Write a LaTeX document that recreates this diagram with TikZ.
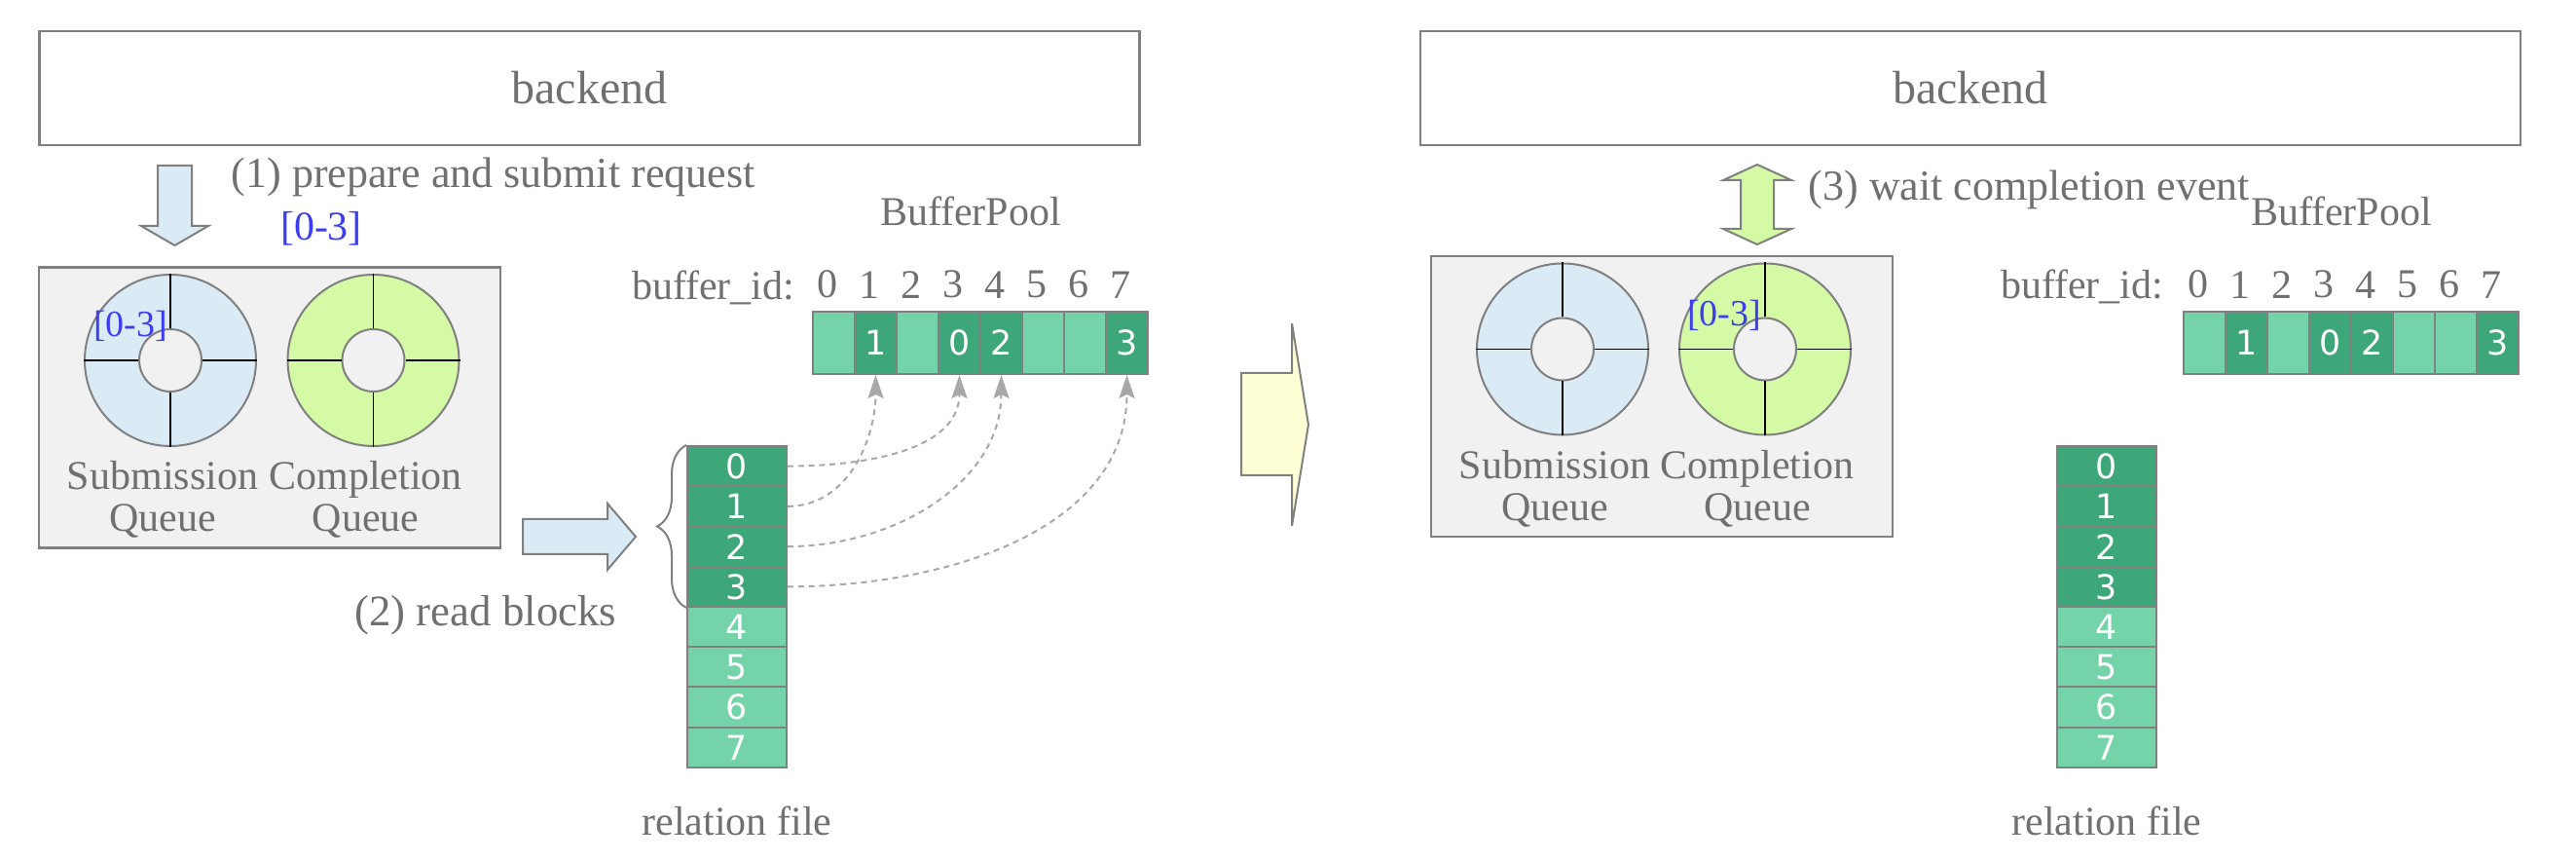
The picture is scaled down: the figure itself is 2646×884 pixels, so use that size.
\documentclass[tikz,border=0pt]{standalone}
\usepackage{fontspec}
\setmainfont{Liberation Serif}
\newfontfamily\cellfont{DejaVu Sans}
\usetikzlibrary{positioning}
\usetikzlibrary{arrows.meta}
\usetikzlibrary{decorations.pathreplacing}

\definecolor{txtgray}{HTML}{707070}
\definecolor{linegray}{HTML}{808080}
\definecolor{dashgray}{HTML}{A8A8A8}
\definecolor{sqblue}{HTML}{DAEBF6}
\definecolor{cqgreen}{HTML}{D4FAA5}
\definecolor{boxgray}{HTML}{F1F1F1}
\definecolor{blkdark}{HTML}{3DA77A}
\definecolor{blklight}{HTML}{75D3AA}
\definecolor{fwdyellow}{HTML}{FFFFD6}
\definecolor{idxblue}{HTML}{3C3CF0}

\tikzset{
  txt/.style = {text=txtgray, inner sep=0pt, font=\fontsize{10.5}{10.75}\selectfont},
  idx/.style = {text=idxblue, inner sep=0pt, font=\fontsize{9.5}{10}\selectfont},
  backendbox/.style = {draw=linegray, line width=0.6pt, minimum width=282.5pt, minimum height=29.25pt,
    text=txtgray, font=\fontsize{12}{14}\selectfont},
  qbox/.style = {draw=linegray, line width=0.6pt, fill=boxgray, minimum width=118.5pt, minimum height=72pt},
  ring/.style = {circle, draw=linegray, line width=0.5pt, minimum size=44pt, inner sep=0pt},
  hole/.style = {circle, draw=linegray, line width=0.5pt, fill=boxgray, minimum size=16pt, inner sep=0pt},
  divline/.style = {black, line width=0.4pt},
  bufcell/.style = {draw=linegray, line width=0.5pt, minimum width=10.75pt, minimum height=16pt, inner sep=0pt,
    text=white, font=\cellfont\fontsize{8.7}{9}\selectfont},
  relcell/.style = {draw=linegray, line width=0.5pt, minimum width=25.5pt, minimum height=10.3pt, inner sep=0pt,
    text=white, font=\cellfont\fontsize{8.7}{9}\selectfont},
  fatarrow/.style = {draw=linegray, line width=0.5pt},
  linkline/.style = {dashgray, line width=0.5pt, dash pattern=on 1.5pt off 1.2pt,
    -{Stealth[length=6pt, width=4pt, inset=1pt]}},
}

\begin{document}
\begin{tikzpicture}[x=0.25pt, y=0.25pt]
\useasboundingbox (0,0) rectangle (2646,-884);

% left half
\node[backendbox] (backl) at (605.5,-90.5) {backend};
\draw[fatarrow, fill=sqblue] (162,-170) -- (197,-170) -- (197,-232) -- (214,-232) -- (179.5,-252) -- (145,-232) -- (162,-232) -- cycle;
\node[txt, font=\fontsize{11}{12}\selectfont, anchor=base west] (stepone) at (237,-193) {(1) prepare and submit request};
\node[idx, font=\fontsize{10.5}{11}\selectfont] (reqidx) at (330,-235) {[0-3]};

\node[qbox] (qboxl) at (277,-418.5) {};
\node[ring, fill=sqblue] (sqringl) at (175,-370) {};
\node[hole] (sqholel) at (sqringl) {};
\node[ring, fill=cqgreen] (cqringl) at (383.5,-370) {};
\node[hole] (cqholel) at (cqringl) {};
\foreach \r in {sqringl, cqringl} {
  \draw[divline] (\r.north) -- ++(0,-56);
  \draw[divline] (\r.south) -- ++(0,56);
  \draw[divline] (\r.west) -- ++(56,0);
  \draw[divline] (\r.east) -- ++(-56,0);
}
\node[idx] (sqidxl) at (134,-335) {[0-3]};
\node[txt, align=center, below=3.5pt of sqringl, xshift=-2pt] (sqnamel) {Submission\\Queue};
\node[txt, align=center, below=3.5pt of cqringl, xshift=-2pt] (cqnamel) {Completion\\Queue};

\draw[fatarrow, fill=sqblue] (537,-533) -- (624,-533) -- (624,-517) -- (653,-551) -- (624,-585) -- (624,-569) -- (537,-569) -- cycle;
\node[txt, font=\fontsize{11.2}{12}\selectfont, anchor=base east] (steptwo) at (634,-643) {(2) read blocks};

\node[txt, anchor=base] (poolnamel) at (997,-232) {BufferPool};
\foreach \i/\c/\t in {0/blklight/{}, 1/blkdark/1, 2/blklight/{}, 3/blkdark/0, 4/blkdark/2, 5/blklight/{}, 6/blklight/{}, 7/blkdark/3} {
  \node[bufcell, fill=\c] (bl\i) at ({856.5+43*\i},-352) {\t};
  \node[txt, above=3pt of bl\i, xshift=-1.7pt] (bidl\i) {\i};
}
\node[txt, anchor=base east] (bidnamel) at (817,-308) {buffer\_id:};

\foreach \i in {0,...,3}
  \node[relcell, fill=blkdark] (rl\i) at (757,{-478.6-41.25*\i}) {\i};
\foreach \i in {4,...,7}
  \node[relcell, fill=blklight] (rl\i) at (757,{-478.6-41.25*\i}) {\i};
\node[txt, below=9.5pt of rl7] (relnamel) {relation file};
\draw[linegray, line width=0.5pt, decorate, decoration={brace, amplitude=7.5pt}] (rl3.south west) -- (rl0.north west);

\draw[linkline] (rl0.east) to[out=0, in=-90] (bl3.south);
\draw[linkline] (rl1.east) to[out=0, in=-90] (bl1.south);
\draw[linkline] (rl2.east) to[out=0, in=-90] (bl4.south);
\draw[linkline] (rl3.east) to[out=0, in=-90] (bl7.south);

% middle arrow
\draw[fatarrow, fill=fwdyellow] (1275,-383) -- (1327,-383) -- (1327,-332) -- (1344,-436) -- (1327,-540) -- (1327,-488) -- (1275,-488) -- cycle;

% right half
\node[backendbox] (backr) at (2024,-90.5) {backend};
\draw[fatarrow, fill=cqgreen] (1805,-169) -- (1840,-185) -- (1822,-185) -- (1822,-235) -- (1840,-235) -- (1805,-251) -- (1770,-235) -- (1788,-235) -- (1788,-185) -- (1770,-185) -- cycle;
\node[txt, font=\fontsize{11}{12}\selectfont, anchor=base west] (stepthree) at (1857,-206) {(3) wait completion event};

\node[qbox] (qboxr) at (1707,-407) {};
\node[ring, fill=sqblue] (sqringr) at (1605,-358.5) {};
\node[hole] (sqholer) at (sqringr) {};
\node[ring, fill=cqgreen] (cqringr) at (1813,-358.5) {};
\node[hole] (cqholer) at (cqringr) {};
\foreach \r in {sqringr, cqringr} {
  \draw[divline] (\r.north) -- ++(0,-56);
  \draw[divline] (\r.south) -- ++(0,56);
  \draw[divline] (\r.west) -- ++(56,0);
  \draw[divline] (\r.east) -- ++(-56,0);
}
\node[idx] (cqidxr) at (1771,-324) {[0-3]};
\node[txt, align=center, below=3.5pt of sqringr, xshift=-2pt] (sqnamer) {Submission\\Queue};
\node[txt, align=center, below=3.5pt of cqringr, xshift=-2pt] (cqnamer) {Completion\\Queue};

\node[txt, anchor=base] (poolnamer) at (2405,-232) {BufferPool};
\foreach \i/\c/\t in {0/blklight/{}, 1/blkdark/1, 2/blklight/{}, 3/blkdark/0, 4/blkdark/2, 5/blklight/{}, 6/blklight/{}, 7/blkdark/3} {
  \node[bufcell, fill=\c] (br\i) at ({2264.5+43*\i},-352) {\t};
  \node[txt, above=3pt of br\i, xshift=-1.7pt] (bidr\i) {\i};
}
\node[txt, anchor=base east] (bidnamer) at (2223,-307) {buffer\_id:};

\foreach \i in {0,...,3}
  \node[relcell, fill=blkdark] (rr\i) at (2164,{-478.6-41.25*\i}) {\i};
\foreach \i in {4,...,7}
  \node[relcell, fill=blklight] (rr\i) at (2164,{-478.6-41.25*\i}) {\i};
\node[txt, below=9.5pt of rr7] (relnamer) {relation file};
\end{tikzpicture}
\end{document}
